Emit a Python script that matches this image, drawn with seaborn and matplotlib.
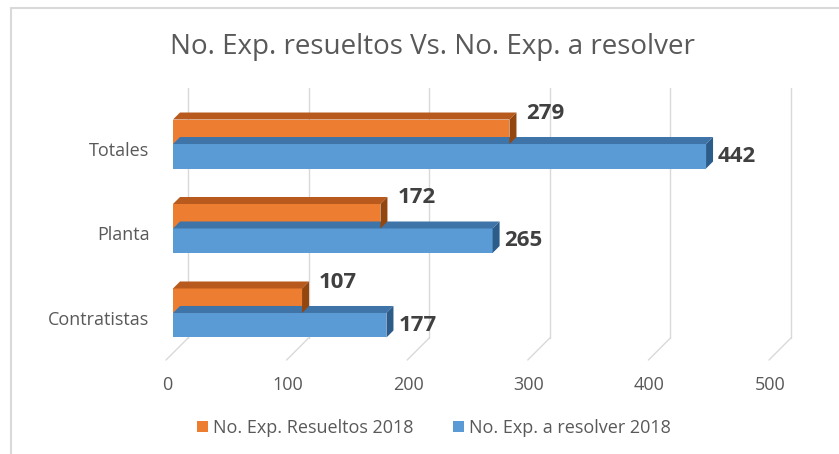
"""
Bar chart: expedientes resueltos vs. expedientes a resolver (2018).

Excel-style 3D horizontal bars rebuilt with seaborn; the depth faces and
the back-wall grid are drawn from the bar patches and the axis scales.
"""

import matplotlib

matplotlib.use("Agg")
import matplotlib.pyplot as plt
import matplotlib.transforms as mtransforms
import pandas as pd
import seaborn as sns
from matplotlib.lines import Line2D
from matplotlib.patches import Patch, Polygon

categories = ["Totales", "Planta", "Contratistas"]
resueltos = [279, 172, 107]
a_resolver = [442, 265, 177]
series_names = ["No. Exp. Resueltos 2018", "No. Exp. a resolver 2018"]
x_ticks = [0, 100, 200, 300, 400, 500]

TITLE = "No. Exp. resueltos Vs. No. Exp. a resolver"
FRONT = ["#ED7D31", "#5B9BD5"]
TOP = ["#B85A1E", "#3E74A8"]
SIDE = ["#94460F", "#2C5C8A"]
GRID = "#D9D9D9"
TEXT = "#595959"
LABEL = "#404040"
DEPTH = (7, 7)          # bar depth in pixels (right, up)
WALL_DX = 15            # back wall offset from bar front, pixels
FLOOR_DX = -7           # floor front edge offset, pixels

sns.set_style("white")
plt.rcParams["font.family"] = ["Open Sans", "DejaVu Sans"]

df = pd.DataFrame({
    "categoria": categories * 2,
    "valor": resueltos + a_resolver,
    "serie": [series_names[0]] * len(categories) + [series_names[1]] * len(categories),
})

W, H, DPI = 839, 454, 100
fig = plt.figure(figsize=(W / DPI, H / DPI), dpi=DPI)
ax = fig.add_axes([173 / W, 1 - 345 / H, 603 / W, 257 / H])

sns.barplot(
    data=df, y="categoria", x="valor", hue="serie",
    order=categories, hue_order=series_names, palette=FRONT,
    width=0.58, orient="h", saturation=1, linewidth=0,
    legend=False, ax=ax,
)
ax.set_xlim(0, 500)
ax.set_ylim(2.379, -0.663)
ax.set_xlabel("")
ax.set_ylabel("")
for spine in ax.spines.values():
    spine.set_visible(False)

# ticks: numbers sit on the front edge of the floor
ax.set_xticks(x_ticks)
ax.tick_params(axis="both", length=0, labelcolor=TEXT, labelsize=13)
ax.tick_params(axis="x", pad=22)
ax.tick_params(axis="y", pad=17)
shift_x = mtransforms.ScaledTranslation(-6 / DPI, 0, fig.dpi_scale_trans)
for lab in ax.get_xticklabels():
    lab.set_transform(lab.get_transform() + shift_x)
shift_y = mtransforms.ScaledTranslation(0, -5 / DPI, fig.dpi_scale_trans)
for lab in ax.get_yticklabels():
    lab.set_transform(lab.get_transform() + shift_y)

# back wall grid + floor diagonals
blend = mtransforms.blended_transform_factory(ax.transData, ax.transAxes)
floor_back = 7 / 257
floor_front = -15 / 257
for v in x_ticks:
    back = mtransforms.offset_copy(blend, fig=fig, x=WALL_DX, y=0, units="dots")
    ax.add_line(Line2D([v, v], [1.0, floor_back], transform=back,
                       color=GRID, lw=1, zorder=0.5, clip_on=False))
    p0 = back.transform((v, floor_back))
    p1 = mtransforms.offset_copy(blend, fig=fig, x=FLOOR_DX, y=0,
                                 units="dots").transform((v, floor_front))
    fig.add_artist(Line2D([p0[0], p1[0]], [p0[1], p1[1]],
                          transform=mtransforms.IdentityTransform(),
                          color=GRID, lw=1, zorder=0.5))

# depth faces and value labels
dx, dy = DEPTH
for i, container in enumerate(ax.containers):
    z = 3 if i == 0 else 2
    for bar, val in zip(container, df[df["serie"] == series_names[i]]["valor"]):
        bar.set_zorder(z)
        x0, y0 = bar.get_x(), bar.get_y()
        (L, b1), (R, b2) = ax.transData.transform(
            [(x0, y0), (x0 + bar.get_width(), y0 + bar.get_height())])
        T, B = max(b1, b2), min(b1, b2)
        ident = mtransforms.IdentityTransform()
        top = Polygon([(L, T), (R, T), (R + dx, T + dy), (L + dx, T + dy)],
                      closed=True, transform=ident, facecolor=TOP[i],
                      edgecolor="none", zorder=z)
        side = Polygon([(R, B), (R, T), (R + dx, T + dy), (R + dx, B + dy)],
                       closed=True, transform=ident, facecolor=SIDE[i],
                       edgecolor="none", zorder=z)
        fig.add_artist(top)
        fig.add_artist(side)
        if i == 0:
            tr = mtransforms.offset_copy(ax.transData, fig=fig, x=17, y=6, units="dots")
            ty = y0
        else:
            tr = mtransforms.offset_copy(ax.transData, fig=fig, x=12, y=0, units="dots")
            ty = y0 + bar.get_height() / 2
        ax.text(val, ty, f"{val}", transform=tr, ha="left", va="center",
                fontsize=16, fontweight="bold", color=LABEL, zorder=5)

fig.text(432 / W, 1 - 47 / H, TITLE, ha="center", va="center",
         fontsize=20, color=TEXT)

handles = [Patch(facecolor=c, edgecolor="none") for c in FRONT]
fig.legend(handles, series_names, loc="center",
           bbox_to_anchor=(434 / W, 1 - 428 / H), ncol=2, frameon=False,
           handlelength=0.6, handleheight=0.6, handletextpad=0.3,
           columnspacing=2.2, fontsize=13, labelcolor=TEXT)

# chart area border (left and top edges are visible in the crop)
fig.add_artist(Line2D([11 / W, 11 / W], [0, 1 - 8 / H], color=GRID, lw=1.5))
fig.add_artist(Line2D([11 / W, 1], [1 - 8 / H, 1 - 8 / H], color=GRID, lw=1.5))

fig.savefig("out.png", dpi=DPI)
plt.close(fig)
